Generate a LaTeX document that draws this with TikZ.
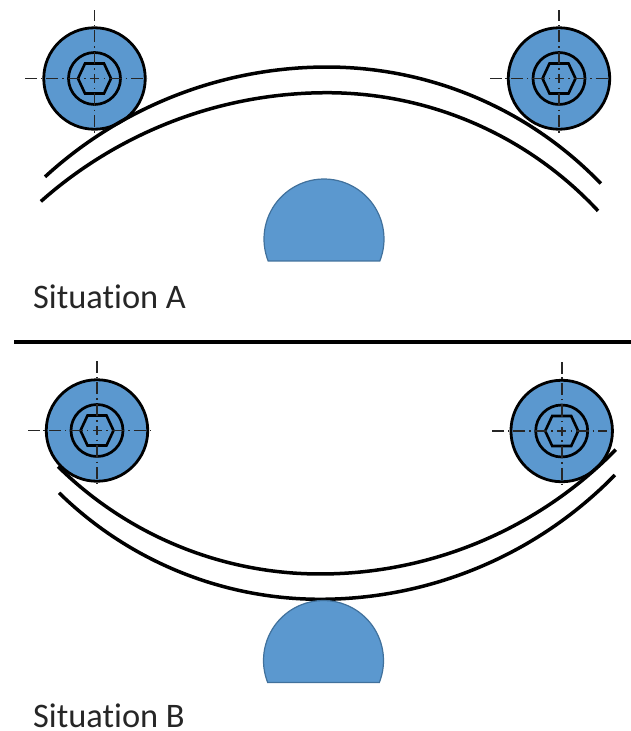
\documentclass[tikz,border=0pt]{standalone}
\usepackage{fontspec}
\setmainfont[Ligatures=NoCommon]{Carlito}
\usetikzlibrary{calc}
\definecolor{rollerblue}{HTML}{5B98CF}
\definecolor{edgeblue}{HTML}{41719C}
\tikzset{
  roller/.style={circle,draw=black,fill=rollerblue,line width=2.8pt,minimum size=101.5pt,inner sep=0pt},
  bore/.style={circle,draw=black,line width=2.7pt,minimum size=52pt,inner sep=0pt},
  hexline/.style={draw=black,line width=2.6pt,line join=miter},
  centerline/.style={draw=black!85,line width=1.6pt,dash pattern=on 4.5pt off 4.5pt on 1.5pt off 4pt on 12.5pt off 4pt on 1.5pt off 4pt on 12pt off 4pt on 1.5pt off 3.5pt on 12pt off 20pt},
  strip/.style={draw=black,line width=3.5pt,line cap=butt},
  support/.style={draw=edgeblue,fill=rollerblue,line width=1.2pt},
  caption/.style={anchor=base west,font=\fontsize{34.4}{40}\selectfont,text=black!85,inner sep=0pt},
  divider/.style={draw=black,line width=3.4pt}
}
\newcommand{\rollerat}[7]{% name, cx, cy, hleft, hright, vtop, vbot
  \node[roller] (#1) at (#2,#3) {};
  \node[bore] (#1b) at (#2,#3) {};
  \draw[hexline] ($(#2,#3)+(-16.5,0)$) -- ++(7,-15) -- ++(19,0) -- ++(7,15) -- ++(-7,15) -- ++(-19,0) -- cycle;
  \coordinate (#1c) at (#2,#3);
  \coordinate (#1l) at (#4,#3);
  \coordinate (#1r) at (#5,#3);
  \coordinate (#1t) at (#2,#6);
  \coordinate (#1d) at (#2,#7);
  \draw[centerline] (#1c) -- (#1l);
  \draw[centerline] (#1c) -- (#1r);
  \draw[centerline] (#1c) -- (#1t);
  \draw[centerline] (#1c) -- (#1d);
}
\begin{document}
\begin{tikzpicture}[x=1pt,y=-1pt]
\useasboundingbox (0,0) rectangle (631,731);
% Situation A
\rollerat{ra}{94.5}{78.5}{24}{147}{10}{133}
\rollerat{rb}{559}{78.5}{484}{609}{10}{133}
\draw[strip] plot[smooth,samples=70,domain=-42.55:46.1] ({327+(\x<0?417:380)*sin(\x)},{67+(\x<0?417:380)*(1-cos(\x))});
\draw[strip] plot[smooth,samples=70,domain=-41.6:47.1] ({327+(\x<0?431:370)*sin(\x)},{92.7+(\x<0?431:370)*(1-cos(\x))});
\draw[support] plot[smooth,samples=60,domain=158.5:381.5] ({324+60*cos(\x)},{239+60*sin(\x)}) -- cycle;
\node[caption] (capa) at (33,308) {Situation A};
% divider
\coordinate (divl) at (14,342);
\coordinate (divr) at (631,342);
\draw[divider] (divl) -- (divr);
% Situation B
\rollerat{rc}{97}{430.5}{27}{150}{361}{484}
\rollerat{rd}{561.7}{431}{488}{607}{360}{484}
\draw[strip] plot[smooth,samples=70,domain=-44.6:45.6] ({320+(\x<0?373:414)*sin(\x)},{574-(\x<0?373:414)*(1-cos(\x))});
\draw[strip] plot[smooth,samples=70,domain=-44.4:45.7] ({320+(\x<0?373:412)*sin(\x)},{599.3-(\x<0?373:412)*(1-cos(\x))});
\draw[support] plot[smooth,samples=60,domain=158.5:381.5] ({323.5+60*cos(\x)},{660.5+60*sin(\x)}) -- cycle;
\node[caption] (capb) at (33,727) {Situation B};
\end{tikzpicture}
\end{document}
